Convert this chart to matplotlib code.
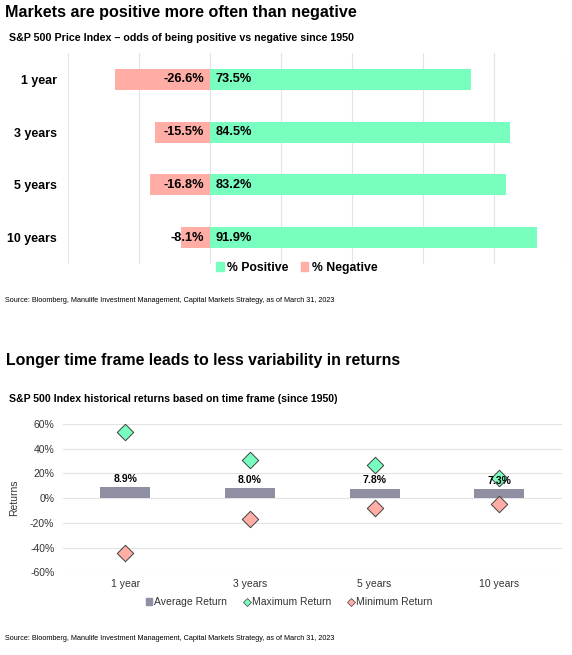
import matplotlib.pyplot as plt
from matplotlib.patches import Patch
from matplotlib.lines import Line2D
from matplotlib.ticker import FuncFormatter

plt.rcParams['font.family'] = ['Liberation Sans', 'DejaVu Sans']

# top chart: odds of positive / negative
periods = ['1 year', '3 years', '5 years', '10 years']
pct_positive = [73.5, 84.5, 83.2, 91.9]
pct_negative = [-26.6, -15.5, -16.8, -8.1]

# bottom chart: historical returns
avg_return = [8.9, 8.0, 7.8, 7.3]
max_return = [53.7, 30.8, 27.0, 16.7]
min_return = [-44.5, -16.8, -8.1, -4.9]

green = '#78FFC0'
pink = '#FFADA5'
bar_gray = '#8E8FA2'
grid_c = '#E3E3E3'

W, H = 572, 655
fig = plt.figure(figsize=(W / 100, H / 100), dpi=100)

def fx(px):
    return px / W

def fy(py):
    return 1 - py / H

# titles and sources
fig.text(fx(5), fy(13), 'Markets are positive more often than negative',
         fontsize=11.6, fontweight='bold', va='center')
fig.text(fx(9), fy(38), 'S&P 500 Price Index \u2013 odds of being positive vs negative since 1950',
         fontsize=7.7, fontweight='bold', va='center')
fig.text(fx(5), fy(300), 'Source: Bloomberg, Manulife Investment Management, Capital Markets Strategy, as of March 31, 2023',
         fontsize=5.25, va='center', family=['Liberation Sans Narrow', 'Liberation Sans'])

fig.text(fx(6), fy(360), 'Longer time frame leads to less variability in returns',
         fontsize=11.4, fontweight='bold', va='center')
fig.text(fx(9), fy(399), 'S&P 500 Index historical returns based on time frame (since 1950)',
         fontsize=7.6, fontweight='bold', va='center')
fig.text(fx(5), fy(639), 'Source: Bloomberg, Manulife Investment Management, Capital Markets Strategy, as of March 31, 2023',
         fontsize=5.25, va='center', family=['Liberation Sans Narrow', 'Liberation Sans'])

# ---- top chart ----
ax1 = fig.add_axes([fx(67.7), fy(264), fx(565.3 - 67.7), (264 - 53) / H])
y = list(range(len(periods)))
ax1.barh(y, pct_positive, height=0.4, color=green, zorder=2)
ax1.barh(y, pct_negative, height=0.4, color=pink, zorder=2)
ax1.set_xlim(-40, 100)
ax1.set_ylim(3.5, -0.5)
ax1.set_xticks(range(-40, 101, 20))
ax1.set_xticklabels([])
ax1.grid(axis='x', color=grid_c, linewidth=0.8)
ax1.set_axisbelow(True)
ax1.set_yticks(y)
ax1.set_yticklabels(periods, fontsize=8.9, fontweight='bold')
ax1.tick_params(length=0, axis='y', pad=8)
ax1.tick_params(length=0, axis='x')
for s in ax1.spines.values():
    s.set_visible(False)
for i in y:
    ax1.annotate(f'{pct_negative[i]}%', (0, i), xytext=(-4.3, 0), textcoords='offset points',
                 ha='right', va='center', fontsize=9.2, fontweight='bold', zorder=3)
    ax1.annotate(f'{pct_positive[i]}%', (0, i), xytext=(4.3, 0), textcoords='offset points',
                 ha='left', va='center', fontsize=9.2, fontweight='bold', zorder=3)

fig.legend(handles=[Patch(color=green, label='% Positive'), Patch(color=pink, label='% Negative')],
           loc='center', bbox_to_anchor=(fx(297), fy(268)), ncol=2, frameon=False,
           prop={'size': 8.8, 'weight': 'bold'}, handlelength=0.6, handleheight=0.8,
           handletextpad=0.3, columnspacing=1.0)

# ---- bottom chart ----
ax2 = fig.add_axes([fx(62.7), fy(572.3), fx(561.7 - 62.7), (572.3 - 424) / H])
x = list(range(len(periods)))
ax2.bar(x, avg_return, width=0.4, color=bar_gray, zorder=2)
ax2.scatter(x, max_return, marker='D', s=70, color=green, edgecolor='#404040', linewidth=0.7, zorder=3)
ax2.scatter(x, min_return, marker='D', s=70, color=pink, edgecolor='#404040', linewidth=0.7, zorder=3)
for i in x:
    ax2.annotate(f'{avg_return[i]}%', (i, avg_return[i]), xytext=(0, 2.5), textcoords='offset points',
                 ha='center', va='bottom', fontsize=7.5, fontweight='bold', zorder=4)
ax2.set_xlim(-0.5, 3.5)
ax2.set_ylim(-60, 60)
ax2.set_yticks(range(-60, 61, 20))
ax2.yaxis.set_major_formatter(FuncFormatter(lambda v, p: f'{v:.0f}%'))
ax2.set_xticks(x)
ax2.set_xticklabels(periods)
ax2.tick_params(length=0, labelsize=7.5, colors='#333333')
ax2.tick_params(axis='y', pad=6)
ax2.tick_params(axis='x', pad=5)
ax2.grid(axis='y', color=grid_c, linewidth=0.8)
ax2.set_axisbelow(True)
for s in ax2.spines.values():
    s.set_visible(False)
ax2.set_ylabel('Returns', fontsize=7.5, color='#333333', labelpad=8)

fig.legend(handles=[Patch(color=bar_gray, label='Average Return'),
                    Line2D([], [], marker='D', linestyle='none', markersize=4.5, markerfacecolor=green,
                           markeredgecolor='#404040', markeredgewidth=0.5, label='Maximum Return'),
                    Line2D([], [], marker='D', linestyle='none', markersize=4.5, markerfacecolor=pink,
                           markeredgecolor='#404040', markeredgewidth=0.5, label='Minimum Return')],
           loc='center', bbox_to_anchor=(fx(289), fy(602)), ncol=3, frameon=False,
           prop={'size': 7.5}, handlelength=0.6, handleheight=0.6, handletextpad=0.2,
           columnspacing=1.6, labelcolor='#333333')

fig.savefig('out.png', dpi=100)
